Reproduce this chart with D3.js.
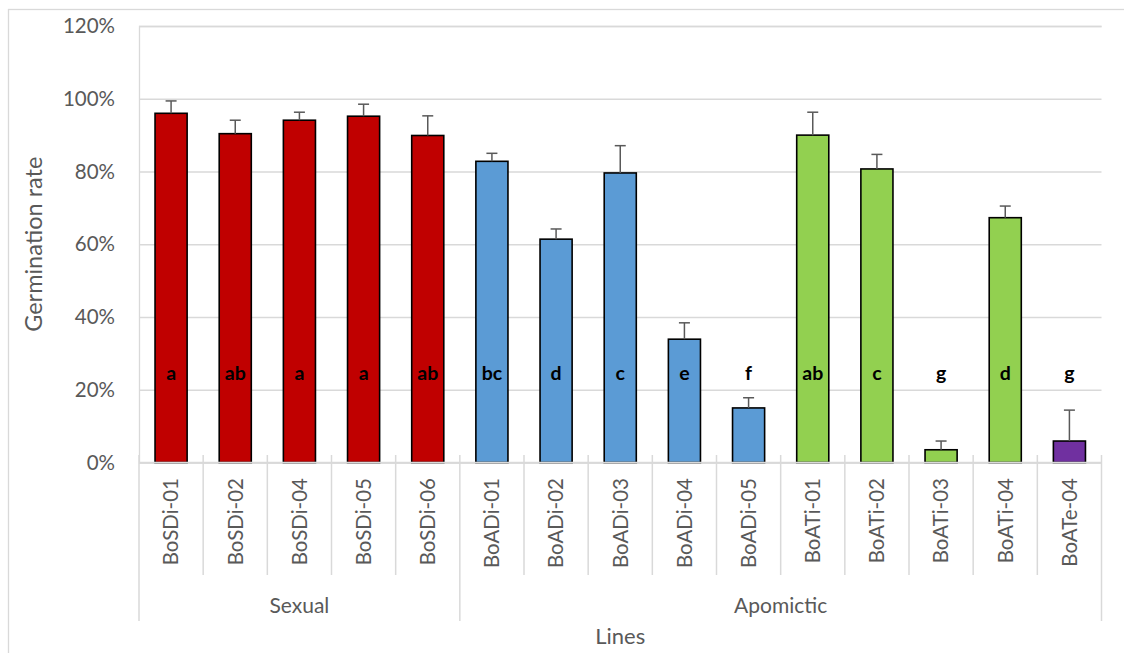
<!DOCTYPE html>
<html>
<head>
<meta charset="utf-8">
<script src="https://cdn.jsdelivr.net/npm/d3@7"></script>
<style>
  html, body { margin: 0; padding: 0; background: #fff; }
  svg { display: block; font-family: Lato, "Open Sans", sans-serif; }
</style>
</head>
<body>
<svg id="chart" width="1124" height="653"></svg>
<script>
// Germination rate per line (%), with upper standard deviation and significance letters
const lines   = ["BoSDi-01", "BoSDi-02", "BoSDi-04", "BoSDi-05", "BoSDi-06",
                 "BoADi-01", "BoADi-02", "BoADi-03", "BoADi-04", "BoADi-05",
                 "BoATi-01", "BoATi-02", "BoATi-03", "BoATi-04", "BoATe-04"];
const groups  = ["Sexual", "Sexual", "Sexual", "Sexual", "Sexual",
                 "Apomictic", "Apomictic", "Apomictic", "Apomictic", "Apomictic",
                 "Apomictic", "Apomictic", "Apomictic", "Apomictic", "Apomictic"];
const rates   = [96.0, 90.4, 94.1, 95.2, 89.9, 82.8, 61.4, 79.6, 33.9, 15.0, 90.0, 80.7, 3.5, 67.3, 5.9];
const errors  = [3.4, 3.7, 2.2, 3.3, 5.4, 2.2, 2.8, 7.5, 4.5, 2.8, 6.3, 4.0, 2.4, 3.2, 8.5];
const letters = ["a", "ab", "a", "a", "ab", "bc", "d", "c", "e", "f", "ab", "c", "g", "d", "g"];
const yTicks  = [0, 20, 40, 60, 80, 100, 120];

// Bar colour by line type (sexual diploid, apomictic diploid / tetraploid)
const kinds = ["SDi", "ADi", "ATi", "ATe"];
const kindColor = d3.scaleOrdinal().domain(kinds).range(["#C00000", "#5B9BD5", "#92D050", "#7030A0"]);
const kindOf = name => name.slice(2, 5);

const svg = d3.select("#chart");
const M = { left: 139, right: 1101.5, top: 26, bottom: 462.5 };

const x = d3.scaleBand().domain(lines).range([M.left, M.right]).paddingInner(0.5).paddingOuter(0.25);
const y = d3.scaleLinear().domain([0, 120]).range([M.bottom, M.top]);
const step = x.step();
const grey = "#595959", light = "#d9d9d9";

// Outer chart frame
svg.append("rect").attr("x", 8.5).attr("y", 9.5).attr("width", 1130).attr("height", 660)
  .attr("fill", "none").attr("stroke", light).attr("stroke-width", 1.3);

// Horizontal gridlines + value axis labels
const yAxis = d3.axisLeft(y).tickValues(yTicks).tickSize(-(M.right - M.left)).tickPadding(24)
  .tickFormat(d => d + "%");
const gy = svg.append("g").attr("transform", `translate(${M.left},0)`).call(yAxis);
gy.select(".domain").attr("stroke", light).attr("stroke-width", 1.3);
gy.selectAll(".tick line").attr("stroke", light).attr("stroke-width", 1.5);
gy.selectAll(".tick text").attr("fill", grey).style("font-size", "20.5px").style("font-family", "Lato, sans-serif");

// Bars
svg.append("g").selectAll("rect").data(lines).join("rect")
  .attr("x", d => x(d))
  .attr("width", x.bandwidth())
  .attr("y", (d, i) => y(rates[i]))
  .attr("height", (d, i) => y(0) - y(rates[i]))
  .attr("fill", d => kindColor(kindOf(d)))
  .attr("stroke", "#000").attr("stroke-width", 1.6);

// Upper error bars with caps
const eb = svg.append("g").attr("stroke", grey).attr("stroke-width", 1.5);
lines.forEach((d, i) => {
  const cx = x(d) + x.bandwidth() / 2;
  eb.append("line").attr("x1", cx).attr("x2", cx).attr("y1", y(rates[i])).attr("y2", y(rates[i] + errors[i]));
  eb.append("line").attr("x1", cx - 5.5).attr("x2", cx + 5.5)
    .attr("y1", y(rates[i] + errors[i])).attr("y2", y(rates[i] + errors[i]));
});

// Significance letters
svg.append("g").selectAll("text").data(lines).join("text")
  .attr("x", d => x(d) + x.bandwidth() / 2)
  .attr("y", 380)
  .attr("text-anchor", "middle")
  .style("font-size", "19.5px").style("font-weight", "bold").attr("fill", "#000")
  .text((d, i) => letters[i]);

// Category axis line
svg.append("line").attr("x1", M.left).attr("x2", M.right).attr("y1", M.bottom).attr("y2", M.bottom)
  .attr("stroke", light).attr("stroke-width", 1.5);

// Separators between categories and between groups
const groupNames = Array.from(new Set(groups));
const groupSpans = groupNames.map(g => {
  const idx = lines.map((d, i) => i).filter(i => groups[i] === g);
  return { name: g, x0: x(lines[idx[0]]) - step * x.paddingInner() / 2,
           x1: x(lines[idx[idx.length - 1]]) + x.bandwidth() + step * x.paddingInner() / 2 };
});
const sep = svg.append("g").attr("stroke", light).attr("stroke-width", 1.5);
lines.forEach((d, i) => {
  const bx = x(d) - step * x.paddingInner() / 2;
  const isGroupEdge = i === 0 || groups[i] !== groups[i - 1];
  sep.append("line").attr("x1", bx).attr("x2", bx).attr("y1", 455).attr("y2", isGroupEdge ? 621 : 575);
});
sep.append("line").attr("x1", M.right).attr("x2", M.right).attr("y1", 455).attr("y2", 621);

// Category labels (rotated)
svg.append("g").selectAll("text").data(lines).join("text")
  .attr("transform", d => `translate(${x(d) + x.bandwidth() / 2},478) rotate(-90)`)
  .attr("text-anchor", "end").attr("dy", "0.36em")
  .attr("fill", grey).style("font-size", "20.5px")
  .text(d => d);

// Group labels
svg.append("g").selectAll("text").data(groupSpans).join("text")
  .attr("x", d => (d.x0 + d.x1) / 2).attr("y", 613)
  .attr("text-anchor", "middle").attr("fill", grey).style("font-size", "21px")
  .text(d => d.name);

// Axis titles
svg.append("text").attr("x", (M.left + M.right) / 2).attr("y", 644)
  .attr("text-anchor", "middle").attr("fill", grey).style("font-size", "22px").text("Lines");
svg.append("text").attr("transform", `translate(42,${(M.top + M.bottom) / 2}) rotate(-90)`)
  .attr("text-anchor", "middle").attr("fill", grey).style("font-size", "23.5px").text("Germination rate");
</script>
</body>
</html>
